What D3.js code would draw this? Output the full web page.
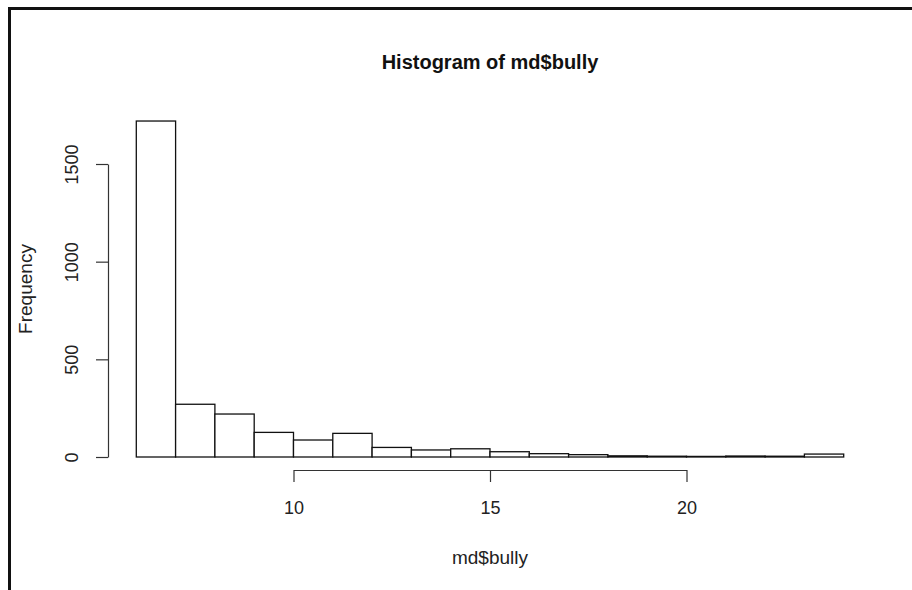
<!DOCTYPE html>
<html>
<head>
<meta charset="utf-8">
<script src="https://cdn.jsdelivr.net/npm/d3@7"></script>
<style>
  body { margin: 0; background: #fff; }
  svg { display: block; font-family: "Liberation Sans", Arial, Helvetica, sans-serif; }
</style>
</head>
<body>
<div id="chart"></div>
<script>
"use strict";
(function() {

const WIDTH = 912
const HEIGHT = 590

// histogram bins of md$bully, width 1, from 6 to 24
const binStarts = [6, 7, 8, 9, 10, 11, 12, 13, 14, 15, 16, 17, 18, 19, 20, 21, 22, 23]
const counts = [1720, 270, 220, 126, 87, 121, 49, 36, 42, 27, 17, 12, 6, 4, 3, 5, 4, 15]
const BIN_WIDTH = 1

const xTicks = [10, 15, 20]
const yTicks = [0, 500, 1000, 1500]

const TITLE = "Histogram of md$bully"
const XLAB = "md$bully"
const YLAB = "Frequency"

const INK = "#222"
const TICK_SIZE = 18
const LABEL_SIZE = 19

// plot region (R style: 4% padding on x data range)
let x = d3.scaleLinear().domain([5.28, 24.72]).range([108, 872])
let y = d3.scaleLinear().domain([0, 1500]).range([457, 164])

let svg = d3.select("#chart").append("svg")
    .attr("width", WIDTH)
    .attr("height", HEIGHT)

// outer frame (only top and left edges show in the picture)
svg.append("rect")
    .attr("x", 9.5)
    .attr("y", 8.5)
    .attr("width", 1000)
    .attr("height", 1000)
    .attr("fill", "none")
    .attr("stroke", "#111")
    .attr("stroke-width", 3)

// bars
svg.append("g")
  .selectAll("rect")
  .data(d3.zip(binStarts, counts))
  .join("rect")
    .attr("x", d => x(d[0]))
    .attr("y", d => y(d[1]))
    .attr("width", d => x(d[0] + BIN_WIDTH) - x(d[0]))
    .attr("height", d => y(0) - y(d[1]))
    .attr("fill", "#fff")
    .attr("stroke", "#111")
    .attr("stroke-width", 1.3)

// x axis: only spans the tick range like base R
let xAxisScale = d3.scaleLinear()
    .domain(d3.extent(xTicks))
    .range([x(d3.min(xTicks)), x(d3.max(xTicks))])

let gx = svg.append("g")
    .attr("transform", "translate(0, 470)")
    .call(d3.axisBottom(xAxisScale).tickValues(xTicks).tickSize(12).tickSizeOuter(0))
gx.attr("font-size", null).attr("font-family", null)
gx.selectAll("path, line").attr("stroke", "#333").attr("stroke-width", 1.2)
gx.selectAll("text")
    .attr("y", 38)
    .attr("dy", "0.35em")
    .attr("fill", INK)
    .attr("font-size", TICK_SIZE)

// y axis
let yAxisScale = d3.scaleLinear()
    .domain(d3.extent(yTicks))
    .range([y(d3.min(yTicks)), y(d3.max(yTicks))])

let gy = svg.append("g")
    .attr("transform", "translate(108, 0)")
    .call(d3.axisLeft(yAxisScale).tickValues(yTicks).tickSize(12).tickSizeOuter(0).tickFormat(d3.format("d")))
gy.attr("font-size", null).attr("font-family", null)
gy.selectAll("path, line").attr("stroke", "#333").attr("stroke-width", 1.2)
gy.selectAll("text")
    .attr("x", 0)
    .attr("y", 0)
    .attr("dy", "0.35em")
    .attr("text-anchor", "middle")
    .attr("transform", "translate(-36, 0) rotate(-90)")
    .attr("fill", INK)
    .attr("font-size", TICK_SIZE)

// titles
svg.append("text")
    .attr("x", (x.range()[0] + x.range()[1]) / 2)
    .attr("y", 62)
    .attr("dy", "0.35em")
    .attr("text-anchor", "middle")
    .attr("font-weight", "bold")
    .attr("font-size", 20)
    .attr("fill", "#111")
    .text(TITLE)

svg.append("text")
    .attr("x", (x.range()[0] + x.range()[1]) / 2)
    .attr("y", 557)
    .attr("dy", "0.35em")
    .attr("text-anchor", "middle")
    .attr("font-size", LABEL_SIZE)
    .attr("fill", INK)
    .text(XLAB)

svg.append("text")
    .attr("transform", "translate(25, 289) rotate(-90)")
    .attr("dy", "0.35em")
    .attr("text-anchor", "middle")
    .attr("font-size", LABEL_SIZE)
    .attr("fill", INK)
    .text(YLAB)

})();
</script>
</body>
</html>
